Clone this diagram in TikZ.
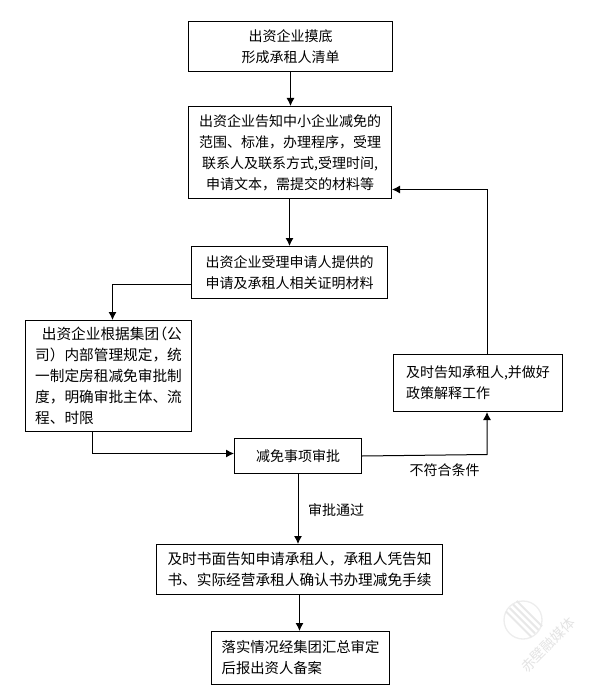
\documentclass[tikz,border=0pt]{standalone}
\usepackage{fontspec}
\setmainfont{Noto Sans CJK SC}
\usetikzlibrary{
    arrows.meta,         % For arrow tips
    calc                 % For coordinate calculations
}

\begin{document}
\begin{tikzpicture}[
    x=0.75pt, y=-0.75pt,
    >={Latex[length=6pt,width=6pt]}, % Set default arrow tip style
    flowbox/.style={draw, line width=0.75pt, inner sep=0pt,
        font=\fontsize{10.5}{15.75}\selectfont},
    widebox/.style={flowbox, font=\fontsize{11}{15.75}\selectfont},
    flowline/.style={->, line width=0.75pt},
    linelabel/.style={font=\fontsize{10.5}{15.75}\selectfont},
    markline/.style={line width=1.5pt, black!9}
]

    \useasboundingbox (0,0) rectangle (598,695);

    % Faint mark in the lower right corner
    \draw[line width=1pt, black!7] (523,620) circle (19);
    \foreach \d in {-9,-4,1,6}
        \draw[markline, rotate around={-45:(523,620)}] (505,620+\d) -- (541,620+\d);
    \node[rotate=45, text=black!11, font=\fontsize{10.5}{12}\selectfont]
        (mark) at (548,645) {赤壁融媒体};

    % Boxes of the main column
    \node[flowbox, align=center, minimum width=153pt, minimum height=37.5pt]
        (survey) at (290.5,46.5) {出资企业摸底\\形成承租人清单};
    \node[flowbox, align=center, minimum width=152.25pt, minimum height=69pt]
        (inform) at (290,152.5) {出资企业告知中小企业减免的\\范围、标准，办理程序，受理\\联系人及联系方式,受理时间,\\申请文本，需提交的材料等};
    \node[flowbox, align=center, minimum width=147pt, minimum height=39pt]
        (accept) at (289.5,272.5) {出资企业受理申请人提供的\\申请及承租人相关证明材料};

    % Boxes of the side branches
    \node[widebox, align=left, minimum width=124.5pt, minimum height=83.25pt]
        (rules) at (108.5,376) {\hspace*{5pt}出资企业根据集团\hspace{-5pt}（公\\司）内部管理规定，统\\一制定房租减免审批制\\度，明确审批主体、流\\程、时限};
    \node[flowbox, align=left, minimum width=126.75pt, minimum height=42.75pt]
        (explain) at (478,383) {及时告知承租人,并做好\\政策解释工作};

    % Approval and what follows it
    \node[flowbox, minimum width=95.25pt, minimum height=26.25pt]
        (approve) at (298,456) {减免事项审批};
    \node[widebox, align=left, minimum width=214.5pt, minimum height=37.5pt]
        (notice) at (299.5,569.5) {及时书面告知申请承租人，承租人凭告知\\书、实际经营承租人确认书办理减免手续};
    \node[flowbox, align=left, minimum width=133.5pt, minimum height=39.75pt, font=\fontsize{10.75}{15.75}\selectfont]
        (record) at (300.5,658) {落实情况经集团汇总审定\\后报出资人备案};

    % Connectors
    \draw[flowline] (survey.south) -- (survey.south |- inform.north);
    \draw[flowline] (inform.south -| accept.north) -- (accept.north);
    \draw[flowline] ([yshift=-9pt]accept.west) -| ([xshift=3pt]rules.north);
    \draw[flowline] ([xshift=-12pt]rules.south) |- ([yshift=1.875pt]approve.west);
    \draw[flowline] (approve.east) -- ++(125,-1.5) coordinate (turn) -- (turn |- explain.south);
    \draw[flowline] (turn |- explain.north) |- ([yshift=-27.75pt]inform.east);
    \draw[flowline] (approve.south) -- (approve.south |- notice.north);
    \draw[flowline] (notice.south) -- (notice.south |- record.north);

    % Labels on the connectors
    \node[linelabel] (refuse) at (444.5,470.5) {不符合条件};
    \node[linelabel] (pass) at (336,510.5) {审批通过};

\end{tikzpicture}
\end{document}
